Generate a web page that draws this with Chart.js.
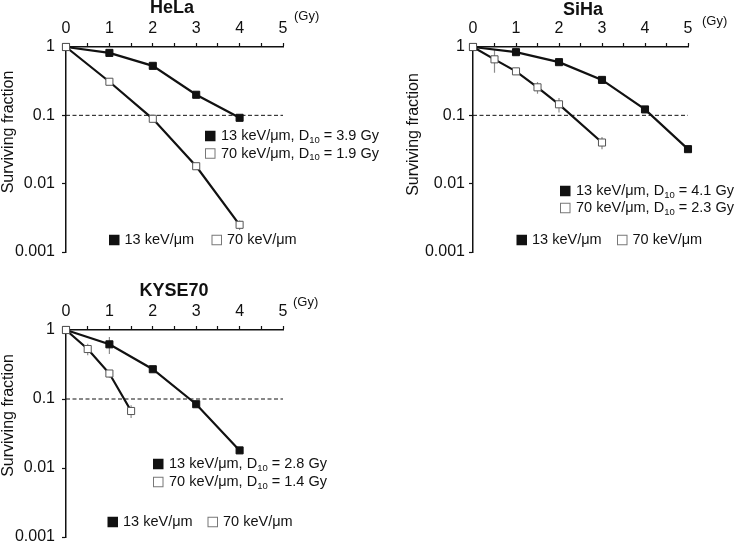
<!DOCTYPE html>
<html>
<head>
<meta charset="utf-8">
<script src="https://cdn.jsdelivr.net/npm/chart.js@4.4.1/dist/chart.umd.min.js"></script>
<style>
  html, body { margin: 0; padding: 0; background: #fff; overflow: hidden; }
  body { width: 737px; height: 542px; position: relative; }
  canvas { position: absolute; }
</style>
</head>
<body>
<canvas id="hela" width="385" height="270" style="left:0;top:0"></canvas>
<canvas id="siha" width="367" height="270" style="left:370px;top:0"></canvas>
<canvas id="kyse" width="370" height="300" style="left:0;top:270px"></canvas>
<script>
// axes
const doseTicks = [0, 0.5, 1, 1.5, 2, 2.5, 3, 3.5, 4, 4.5, 5];
const sfTicks = [0.001, 0.01, 0.1, 1];
const sfTickLabels = ['0.001', '0.01', '0.1', '1'];
const d10Level = 0.1;
const seriesNames = ['13 keV/μm', '70 keV/μm'];

// HeLa
const helaDose13 = [0, 1, 2, 3, 4];
const helaSf13 = [1, 0.82, 0.53, 0.20, 0.092];
const helaSd13 = [0, 0.03, 0.04, 0.015, 0.006];
const helaDose70 = [0, 1, 2, 3, 4];
const helaSf70 = [1, 0.31, 0.089, 0.018, 0.0025];
const helaSd70 = [0, 0.02, 0.01, 0.002, 0.0004];
const helaD10 = [3.9, 1.9];

// SiHa
const sihaDose13 = [0, 1, 2, 3, 4, 5];
const sihaSf13 = [1, 0.84, 0.60, 0.33, 0.122, 0.032];
const sihaSd13 = [0, 0.09, 0.03, 0.04, 0.01, 0.003];
const sihaDose70 = [0, 0.5, 1, 1.5, 2, 3];
const sihaSf70 = [1, 0.66, 0.44, 0.257, 0.145, 0.040];
const sihaSd70 = [0, 0.24, 0.03, 0.05, 0.035, 0.008];
const sihaD10 = [4.1, 2.3];

// KYSE70
const kyseDose13 = [0, 1, 2, 3, 4];
const kyseSf13 = [1, 0.62, 0.27, 0.084, 0.018];
const kyseSd13 = [0, 0.17, 0.02, 0.008, 0.0015];
const kyseDose70 = [0, 0.5, 1, 1.5];
const kyseSf70 = [1, 0.53, 0.234, 0.067];
const kyseSd70 = [0, 0.1, 0.03, 0.014];
const kyseD10 = [2.8, 1.4];

const FONT = "'Liberation Sans', Arial, sans-serif";

// error bars drawn under the lines
const errorBars = {
  id: 'errorBars',
  beforeDatasetsDraw(chart) {
    const ctx = chart.ctx, ys = chart.scales.y;
    chart.data.datasets.forEach((ds, di) => {
      if (!ds.sd) return;
      const meta = chart.getDatasetMeta(di);
      ctx.save();
      ctx.strokeStyle = '#8c8c8c';
      ctx.lineWidth = 1.2;
      meta.data.forEach((pt, i) => {
        const v = ds.data[i].y, e = ds.sd[i];
        if (!e) return;
        const top = ys.getPixelForValue(v + e);
        const bot = ys.getPixelForValue(Math.max(v - e, 1e-4));
        ctx.beginPath();
        ctx.moveTo(pt.x, top);
        ctx.lineTo(pt.x, bot);
        ctx.stroke();
      });
      ctx.restore();
    });
  }
};

function drawKey(ctx, x, cy, filled) {
  const s = 10.5;
  if (filled) {
    ctx.fillStyle = '#111';
    ctx.fillRect(x, cy - s / 2, s, s);
  } else {
    ctx.fillStyle = '#fff';
    ctx.fillRect(x, cy - s / 2, s, s);
    ctx.strokeStyle = '#777';
    ctx.lineWidth = 1;
    ctx.strokeRect(x + 0.5, cy - s / 2 + 0.5, s - 1, s - 1);
  }
}

// title, unit, y title and the two legends
const panelText = {
  id: 'panelText',
  afterDraw(chart, args, o) {
    const ctx = chart.ctx;
    ctx.save();
    ctx.fillStyle = '#111';
    ctx.textBaseline = 'middle';

    ctx.font = `bold 18px ${FONT}`;
    ctx.textAlign = 'center';
    ctx.fillText(o.title, o.titleX, o.titleY);

    ctx.font = `13px ${FONT}`;
    ctx.textAlign = 'left';
    ctx.fillText('(Gy)', o.unitX, o.unitY);

    ctx.save();
    ctx.translate(o.yTitleX, o.yTitleY);
    ctx.rotate(-Math.PI / 2);
    ctx.font = `16px ${FONT}`;
    ctx.textAlign = 'center';
    ctx.fillText('Surviving fraction', 0, 0);
    ctx.restore();

    // legend with D10
    o.rowY.forEach((cy, i) => {
      drawKey(ctx, o.boxX, cy, i === 0);
      ctx.fillStyle = '#111';
      let x = o.boxX + 16;
      ctx.font = `14.5px ${FONT}`;
      const a = `${seriesNames[i]}, D`;
      ctx.fillText(a, x, cy);
      x += ctx.measureText(a).width;
      ctx.font = `9.5px ${FONT}`;
      ctx.fillText('10', x, cy + 4);
      x += ctx.measureText('10').width;
      ctx.font = `14.5px ${FONT}`;
      ctx.fillText(` = ${o.d10[i].toFixed(1)} Gy`, x, cy);
    });

    // bottom legend
    o.keyX.forEach((kx, i) => {
      drawKey(ctx, kx, o.keyY, i === 0);
      ctx.fillStyle = '#111';
      ctx.font = `14.5px ${FONT}`;
      ctx.fillText(seriesNames[i], kx + 15.5, o.keyY);
    });
    ctx.restore();
  }
};

function curve(dose, sf, sd, filled) {
  return {
    data: dose.map((x, i) => ({ x, y: sf[i] })),
    sd,
    borderColor: '#111',
    borderWidth: 2.2,
    tension: 0,
    pointStyle: 'rect',
    pointRadius: 5,
    pointBorderWidth: 1,
    pointBackgroundColor: filled ? '#111' : '#fff',
    pointBorderColor: filled ? '#111' : '#555',
    clip: false
  };
}

function panel(id, area, yPad, text, c70, c13) {
  const cv = document.getElementById(id);
  new Chart(cv, {
    type: 'line',
    data: {
      datasets: [
        c70,
        c13,
        {
          data: [{ x: doseTicks[0], y: d10Level }, { x: doseTicks[doseTicks.length - 1], y: d10Level }],
          borderColor: '#111',
          borderWidth: 1,
          borderDash: [4, 2.5],
          pointRadius: 0,
          clip: false
        }
      ]
    },
    options: {
      responsive: false,
      animation: false,
      devicePixelRatio: 1,
      layout: {
        padding: { left: 0, top: 0, right: cv.width - area.right, bottom: cv.height - area.bottom }
      },
      plugins: {
        legend: { display: false },
        tooltip: { enabled: false },
        panelText: text
      },
      scales: {
        x: {
          type: 'linear',
          position: 'top',
          min: 0,
          max: 5,
          afterBuildTicks: s => { s.ticks = doseTicks.map(v => ({ value: v })); },
          afterFit: s => { s.height = area.top; },
          ticks: {
            callback: v => Number.isInteger(v) ? String(v) : '',
            font: { size: 16, family: FONT },
            color: '#111',
            padding: 5,
            maxRotation: 0,
            minRotation: 0,
            autoSkip: false
          },
          grid: { drawOnChartArea: false, drawTicks: true, tickLength: 4, tickColor: '#111', tickWidth: 1.2 },
          border: { display: true, color: '#111', width: 1.5 }
        },
        y: {
          type: 'logarithmic',
          min: 0.001,
          max: 1,
          afterBuildTicks: s => { s.ticks = sfTicks.map(v => ({ value: v })); },
          afterFit: s => { s.width = area.left; },
          ticks: {
            callback: (v, i) => sfTickLabels[i],
            font: { size: 16, family: FONT },
            color: '#111',
            padding: yPad,
            autoSkip: false
          },
          grid: { drawOnChartArea: false, drawTicks: true, tickLength: 4, tickColor: '#111', tickWidth: 1.2 },
          border: { display: true, color: '#111', width: 1.5 }
        }
      }
    },
    plugins: [errorBars, panelText]
  });
}

panel('hela', { left: 66, right: 283, top: 47, bottom: 252 }, 7, {
  title: 'HeLa', titleX: 172, titleY: 8,
  unitX: 294, unitY: 16,
  yTitleX: 9, yTitleY: 132,
  boxX: 205, rowY: [136, 153.5], d10: helaD10,
  keyX: [109, 211.5], keyY: 240
}, curve(helaDose70, helaSf70, helaSd70, false), curve(helaDose13, helaSf13, helaSd13, true));

panel('siha', { left: 103, right: 318, top: 47, bottom: 252 }, 4, {
  title: 'SiHa', titleX: 213, titleY: 10,
  unitX: 332, unitY: 21,
  yTitleX: 44, yTitleY: 134.5,
  boxX: 190, rowY: [191, 208], d10: sihaD10,
  keyX: [146.5, 247], keyY: 240
}, curve(sihaDose70, sihaSf70, sihaSd70, false), curve(sihaDose13, sihaSf13, sihaSd13, true));

panel('kyse', { left: 66, right: 283, top: 60, bottom: 267 }, 7, {
  title: 'KYSE70', titleX: 174, titleY: 21,
  unitX: 293, unitY: 32.5,
  yTitleX: 9, yTitleY: 145.5,
  boxX: 153, rowY: [194, 212], d10: kyseD10,
  keyX: [107.5, 207.5], keyY: 252
}, curve(kyseDose70, kyseSf70, kyseSd70, false), curve(kyseDose13, kyseSf13, kyseSd13, true));
</script>
</body>
</html>
